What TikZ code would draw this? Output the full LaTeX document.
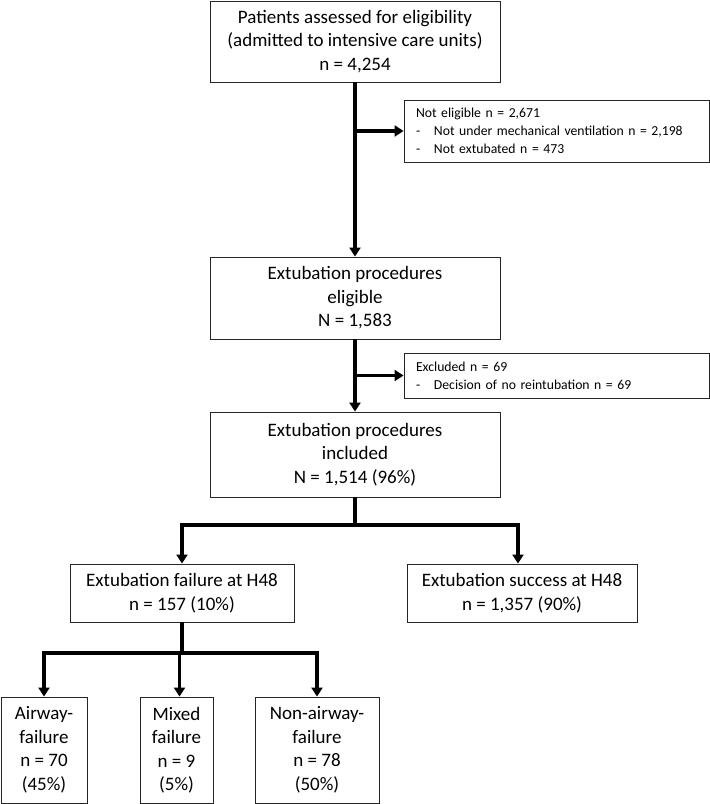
\documentclass[tikz,border=0pt]{standalone}
\usepackage{fontspec}
\setmainfont{Carlito}
\usetikzlibrary{
  arrows.meta,
  positioning,
  calc
}

\begin{document}
\begin{tikzpicture}[
  x=1pt, y=-1pt,
  every node/.style={font=\fontsize{19}{23.5}\selectfont},
  flowbox/.style={draw=black!85, line width=0.9pt, align=center,
    inner sep=0pt},
  sidebox/.style={draw=black!85, line width=0.9pt, align=left,
    inner xsep=12pt, inner ysep=0pt, font=\fontsize{13.7}{18}\selectfont},
  trunk/.style={line width=3.2pt, -{Triangle[length=9pt, width=11pt]}},
  bar/.style={line width=3.2pt}
]
\useasboundingbox (0,0) rectangle (710,804);

% main column
\node[flowbox, minimum width=290pt, minimum height=81pt] (assess) at (355, 41.5)
  {Patients assessed for eligibility\\(admitted to intensive care units)\\n = 4,254};
\node[flowbox, minimum width=290pt, minimum height=82pt] (eligible) at (355, 298)
  {Extubation procedures\\eligible\\N = 1,583};
\node[flowbox, minimum width=290pt, minimum height=85pt] (included) at (355, 454.5)
  {Extubation procedures\\included\\N = 1,514 (96\%)};

% exclusions
\node[sidebox, text width=281pt, minimum height=62pt] (noteligible) at (556.5, 131)
  {Not eligible n = 2,671\\
   \makebox[18pt][l]{-}Not under mechanical ventilation n = 2,198\\
   \makebox[18pt][l]{-}Not extubated n = 473};
\node[sidebox, text width=281pt, minimum height=45pt] (excluded) at (556.5, 375.5)
  {Excluded n = 69\\
   \makebox[18pt][l]{-}Decision of no reintubation n = 69};

% outcome at H48
\node[flowbox, minimum width=224pt, minimum height=58pt] (failure) at (182, 593)
  {Extubation failure at H48\\n = 157 (10\%)};
\node[flowbox, minimum width=230pt, minimum height=58pt] (success) at (522, 593)
  {Extubation success at H48\\n = 1,357 (90\%)};

% failure types
\node[flowbox, minimum width=86pt, minimum height=106pt] (airway) at (44, 750)
  {Airway-\\failure\\n = 70\\(45\%)};
\node[flowbox, minimum width=73pt, minimum height=106pt] (mixed) at (176.5, 750)
  {Mixed\\failure\\n = 9\\(5\%)};
\node[flowbox, minimum width=124pt, minimum height=106pt] (nonairway) at (317, 750)
  {Non-airway-\\failure\\n = 78\\(50\%)};

% arrows
\draw[trunk] (assess.south) -- (eligible.north);
\draw[trunk] (assess.south |- noteligible.west) -- (noteligible.west);
\draw[trunk] (eligible.south) -- (included.north);
\draw[trunk] (eligible.south |- excluded.west) -- (excluded.west);

\coordinate (split1) at (355, 525);
\draw[bar] (included.south) -- (split1);
\draw[trunk] (split1) -| (failure.north);
\draw[trunk] (split1) -| ([xshift=-4pt]success.north);

\coordinate (split2) at (182, 653);
\draw[bar] (failure.south) -- (split2);
\draw[trunk] (split2) -| (airway.north);
\draw[trunk] (split2) -| ([xshift=3pt]mixed.north);
\draw[trunk] (split2) -| (nonairway.north);

\end{tikzpicture}
\end{document}
